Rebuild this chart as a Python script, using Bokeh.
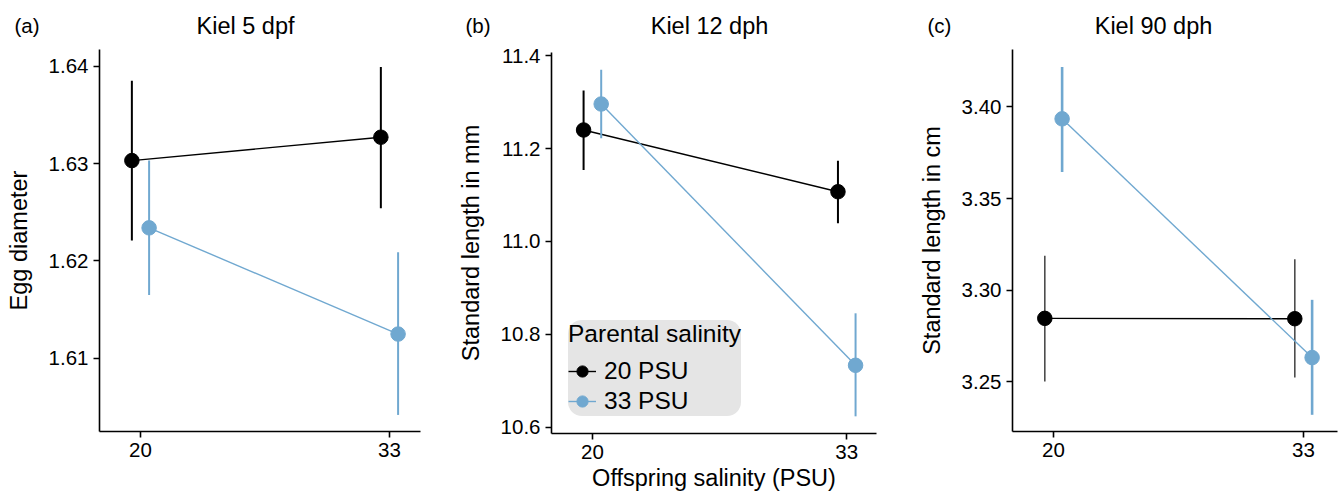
from bokeh.plotting import figure
from bokeh.layouts import row
from bokeh.models import (ColumnDataSource, Range1d, FixedTicker, PrintfTickFormatter,
                          Label, Legend, LegendItem)
from bokeh.transform import dodge
from bokeh.embed import file_html
from bokeh.resources import INLINE

# ---------------- data ----------------
offspring_salinity = [20, 33]
parental_labels = ["20 PSU", "33 PSU"]

# (a) Kiel 5 dpf - egg diameter
a_p20_mean = [1.6303, 1.6327]
a_p20_lo = [1.6221, 1.6254]
a_p20_hi = [1.6385, 1.6399]
a_p33_mean = [1.6234, 1.6125]
a_p33_lo = [1.6165, 1.6042]
a_p33_hi = [1.6303, 1.6209]
a_yticks = [1.61, 1.62, 1.63, 1.64]

# (b) Kiel 12 dph - standard length in mm
b_p20_mean = [11.240, 11.107]
b_p20_lo = [11.154, 11.039]
b_p20_hi = [11.325, 11.174]
b_p33_mean = [11.296, 10.733]
b_p33_lo = [11.222, 10.623]
b_p33_hi = [11.370, 10.845]
b_yticks = [10.6, 10.8, 11.0, 11.2, 11.4]

# (c) Kiel 90 dph - standard length in cm
c_p20_mean = [3.2847, 3.2845]
c_p20_lo = [3.2503, 3.2525]
c_p20_hi = [3.3189, 3.3169]
c_p33_mean = [3.3935, 3.2633]
c_p33_lo = [3.3645, 3.2321]
c_p33_hi = [3.4218, 3.2948]
c_yticks = [3.25, 3.30, 3.35, 3.40]

# ---------------- style ----------------
FONT = "Liberation Sans"
BLACK = "#000000"
BLUE = "#70a8d0"
DODGE = 0.45
H = 496


def make_panel(width, frame, xr, yr, yticks, yfmt, title, title_x, letter, letter_x,
               ylabel, series, xlabel=None, bar_widths=(2, 2), bar_alpha=(1.0, 1.0)):
    # frame = (left, right, top, bottom) of the axes box in canvas pixels
    left, right, top, bottom = frame
    xs_per_px = (xr[1] - xr[0]) / (right - left)
    ys_per_px = (yr[1] - yr[0]) / (bottom - top)
    full_x = (xr[0] - left * xs_per_px, xr[1] + (width - right) * xs_per_px)
    full_y = (yr[0] - (H - bottom) * ys_per_px, yr[1] + top * ys_per_px)

    p = figure(width=width, height=H, x_range=Range1d(*full_x), y_range=Range1d(*full_y),
               output_backend="svg", toolbar_location=None, min_border=0)
    p.title.visible = False
    p.xgrid.visible = False
    p.ygrid.visible = False
    p.outline_line_color = None
    p.background_fill_color = "white"
    p.border_fill_color = "white"

    p.xaxis.fixed_location = yr[0]
    p.xaxis.bounds = xr
    p.yaxis.fixed_location = xr[0]
    p.yaxis.bounds = yr
    p.xaxis.ticker = FixedTicker(ticks=offspring_salinity)
    p.yaxis.ticker = FixedTicker(ticks=yticks)
    p.yaxis.formatter = PrintfTickFormatter(format=yfmt)
    for ax in (p.xaxis, p.yaxis):
        ax.axis_line_width = 1.6
        ax.axis_line_color = "black"
        ax.major_tick_line_width = 1.6
        ax.major_tick_line_color = "black"
        ax.major_tick_out = 6
        ax.major_tick_in = 0
        ax.minor_tick_line_color = None
        ax.major_label_text_font = FONT
        ax.major_label_text_font_size = "20.5px"
        ax.major_label_text_color = "black"
        ax.major_label_standoff = 5
        ax.axis_label_text_font = FONT
        ax.axis_label_text_font_size = "23.5px"
        ax.axis_label_text_font_style = "normal"
        ax.axis_label_text_color = "black"
    p.yaxis.axis_label = ylabel
    p.yaxis.axis_label_standoff = 14
    if xlabel:
        p.xaxis.axis_label = xlabel
        p.xaxis.axis_label_standoff = 3

    renderers = []
    for i, (mean, lo, hi, col, dx) in enumerate(series):
        src = ColumnDataSource(dict(x=offspring_salinity, m=mean, lo=lo, hi=hi))
        xs = dodge("x", dx)
        p.segment(x0=xs, y0="lo", x1=xs, y1="hi", source=src, line_color=col,
                  line_width=bar_widths[i], line_alpha=bar_alpha[i])
        ln = p.line(x=xs, y="m", source=src, line_color=col, line_width=1.4)
        sc = p.scatter(x=xs, y="m", source=src, size=14.5, fill_color=col,
                       line_color=col, marker="circle")
        renderers.append((ln, sc))

    p.add_layout(Label(x=title_x, y=H - 25, x_units="screen", y_units="screen", text=title,
                       text_font=FONT, text_font_size="23.5px", text_baseline="middle",
                       text_align="center", text_color="black"))
    p.add_layout(Label(x=letter_x, y=H - 25, x_units="screen", y_units="screen", text=letter,
                       text_font=FONT, text_font_size="20.5px", text_baseline="middle",
                       text_align="left", text_color="black"))
    return p, renderers


pa, _ = make_panel(440, (99, 420, 49, 431), (17.86, 34.62), (1.6025, 1.6417), a_yticks, "%.2f",
                   "Kiel 5 dpf", 245, "(a)", 14, "Egg diameter",
                   [(a_p20_mean, a_p20_lo, a_p20_hi, BLACK, -DODGE),
                    (a_p33_mean, a_p33_lo, a_p33_hi, BLUE, DODGE)])

pb, rb = make_panel(450, (111, 436, 52, 433), (17.91, 34.52), (10.586, 11.407), b_yticks, "%.1f",
                    "Kiel 12 dph", 269, "(b)", 25, "Standard length in mm",
                    [(b_p20_mean, b_p20_lo, b_p20_hi, BLACK, -DODGE),
                     (b_p33_mean, b_p33_lo, b_p33_hi, BLUE, DODGE)],
                    xlabel="Offspring salinity (PSU)")

pc, _ = make_panel(449, (122, 447, 49, 431), (17.87, 34.77), (3.2230, 3.4313), c_yticks, "%.2f",
                   "Kiel 90 dph", 263, "(c)", 37, "Standard length in cm",
                   [(c_p20_mean, c_p20_lo, c_p20_hi, BLACK, -DODGE),
                    (c_p33_mean, c_p33_lo, c_p33_hi, BLUE, DODGE)],
                   bar_widths=(1.6, 2.6), bar_alpha=(0.7, 1.0))

legend = Legend(items=[LegendItem(label=parental_labels[0], renderers=list(rb[0])),
                       LegendItem(label=parental_labels[1], renderers=list(rb[1]))],
                title="Parental salinity", location=(128, H - 416))
legend.title_text_font = FONT
legend.title_text_font_size = "24.5px"
legend.title_text_font_style = "normal"
legend.title_text_color = "black"
legend.label_text_font = FONT
legend.label_text_font_size = "24.5px"
legend.label_text_color = "black"
legend.background_fill_color = "#e5e5e5"
legend.background_fill_alpha = 1.0
legend.border_line_color = None
legend.padding = 10
legend.spacing = 0
legend.margin = 0
legend.glyph_width = 28
legend.glyph_height = 30
legend.label_height = 30
legend.label_standoff = 8
legend.title_standoff = 8
if "border_radius" in Legend.properties():
    legend.border_radius = 14
pb.add_layout(legend, "center")

layout = row(pa, pb, pc)
open("out.html", "w").write(file_html(layout, INLINE))
